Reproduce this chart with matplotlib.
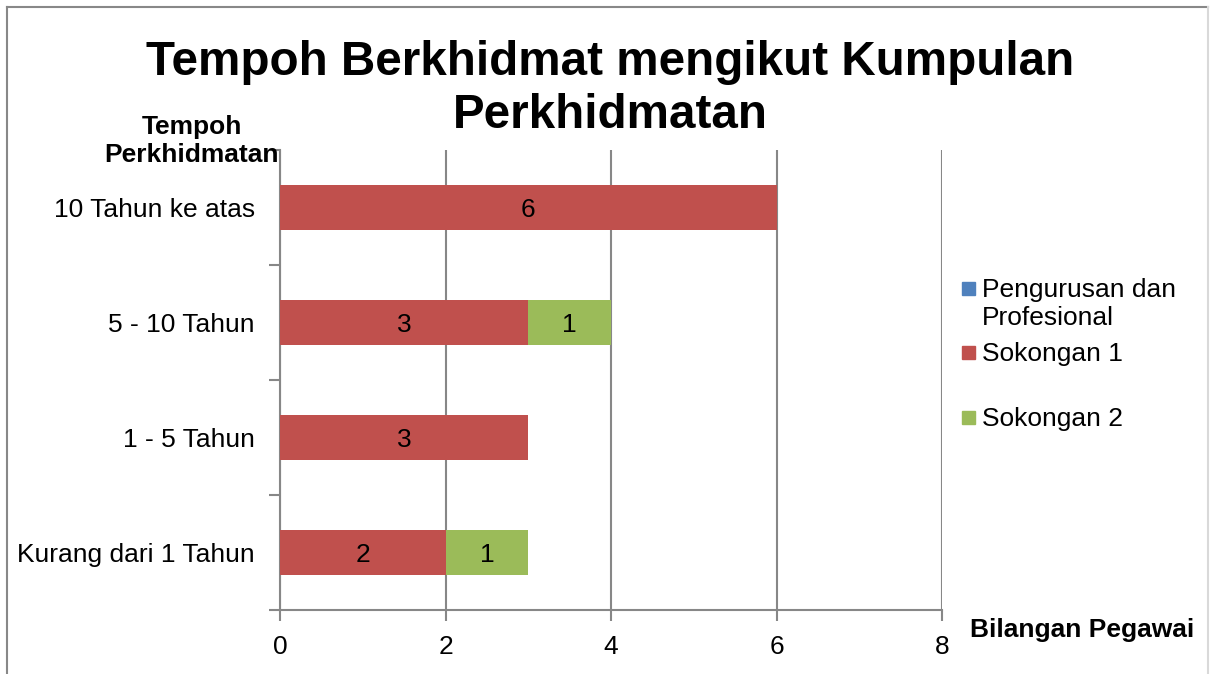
import matplotlib

matplotlib.use("Agg")
import matplotlib.pyplot as plt
from matplotlib.lines import Line2D
from matplotlib.patches import Rectangle
import numpy as np

plt.rcParams["font.family"] = ["Liberation Sans", "DejaVu Sans"]

CATEGORIES = ["Kurang dari 1 Tahun", "1 - 5 Tahun", "5 - 10 Tahun", "10 Tahun ke atas"]
SERIES = ["Pengurusan dan\nProfesional", "Sokongan 1", "Sokongan 2"]
PENGURUSAN = [0, 0, 0, 0]
SOKONGAN_1 = [2, 3, 3, 6]
SOKONGAN_2 = [1, 0, 1, 0]
COLORS = ["#4F81BD", "#C0504D", "#9BBB59"]
X_TICKS = [0, 2, 4, 6, 8]
TITLE_LINES = ["Tempoh Berkhidmat mengikut Kumpulan", "Perkhidmatan"]

W, H = 1210, 674
GRID = "#878787"

fig = plt.figure(figsize=(W / 100, H / 100), dpi=100)
ax = fig.add_axes([280 / W, 1 - 610 / H, (942 - 280) / W, (610 - 150) / H])

y = np.arange(len(CATEGORIES))
left = np.zeros(len(CATEGORIES))
for vals, color in zip([PENGURUSAN, SOKONGAN_1, SOKONGAN_2], COLORS):
    vals = np.array(vals, dtype=float)
    bars = ax.barh(y, vals, left=left, height=0.39, color=color, zorder=3)
    for b, v in zip(bars, vals):
        if v > 0:
            ax.text(b.get_x() + b.get_width() / 2, b.get_y() + b.get_height() / 2,
                    f"{int(v)}", ha="center", va="center_baseline", fontsize=19, zorder=4)
    left += vals

ax.set_xlim(0, 8)
ax.set_ylim(-0.5, len(CATEGORIES) - 0.5)
ax.set_xticks(X_TICKS)
ax.set_xticklabels([str(t) for t in X_TICKS], fontsize=19)
ax.set_yticks(y)
ax.set_yticklabels(CATEGORIES, fontsize=19, va="center_baseline")
ax.set_yticks(np.arange(-0.5, len(CATEGORIES), 1), minor=True)
ax.tick_params(axis="y", which="major", length=0, pad=18)
ax.tick_params(axis="y", which="minor", length=8, color=GRID, width=1.5, direction="out")
ax.tick_params(axis="x", length=8, color=GRID, width=1.5, direction="out", pad=10)
ax.grid(axis="x", color=GRID, linewidth=1.5, zorder=0)
for side in ("top", "right"):
    ax.spines[side].set_visible(False)
for side in ("left", "bottom"):
    ax.spines[side].set_color(GRID)
    ax.spines[side].set_linewidth(1.5)

# title as two separately placed lines
for line, base in zip(TITLE_LINES, [75, 128]):
    fig.text(610 / W, 1 - base / H, line, ha="center", va="baseline",
             fontsize=34.3, fontweight="bold")
fig.text(192 / W, 1 - 115 / H, "Tempoh\nPerkhidmatan", ha="center", va="top",
         fontsize=19, fontweight="bold", linespacing=1.2)
fig.text(1082 / W, 1 - 630 / H, "Bilangan Pegawai", ha="center", va="center",
         fontsize=19, fontweight="bold")

# legend drawn Excel-style: marker aligned with first line of each label
legend_y = [288, 352, 417]
for label, color, ly in zip(SERIES, COLORS, legend_y):
    fig.patches.append(Rectangle((962 / W, 1 - (ly + 6.5) / H), 13 / W, 13 / H,
                                 transform=fig.transFigure, color=color))
    fig.text(982 / W, 1 - (ly - 10) / H, label, ha="left", va="top",
             fontsize=19, linespacing=1.2)

# chart frame
fig.add_artist(Line2D([7 / W, 1208 / W], [1 - 7 / H, 1 - 7 / H], color="#888888", lw=1.5))
fig.add_artist(Line2D([7 / W, 7 / W], [0, 1 - 7 / H], color="#888888", lw=1.5))
fig.add_artist(Line2D([1208 / W, 1208 / W], [0, 1 - 7 / H], color="#D9D9D9", lw=1.5))

fig.savefig("out.png", dpi=100)
